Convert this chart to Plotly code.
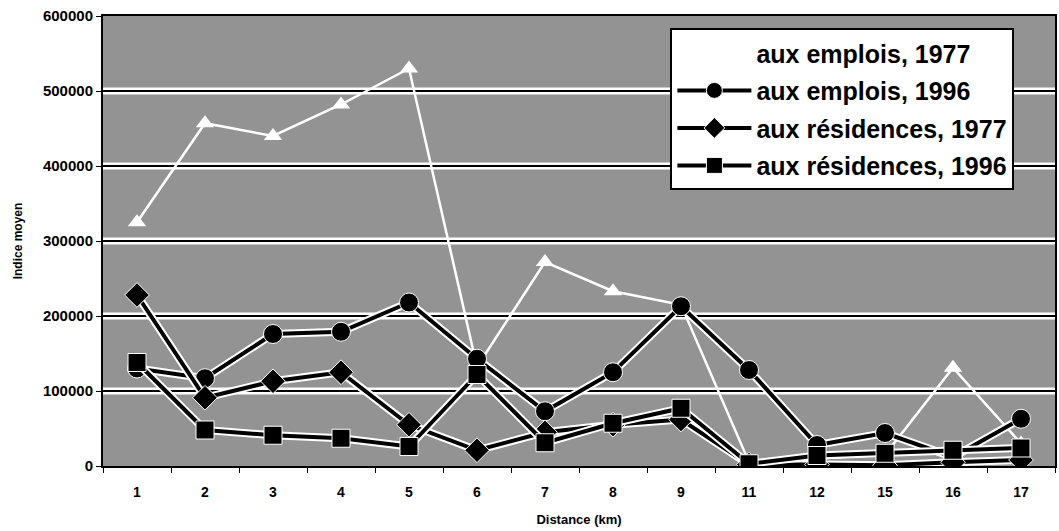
import plotly.graph_objects as go

categories = ["1", "2", "3", "4", "5", "6", "7", "8", "9", "11", "12", "15", "16", "17"]
emplois_1977 = [325000, 457000, 440000, 482000, 530000, 132000, 272000, 233000, 215000, 5000, 10000, 15000, 131000, 30000]
emplois_1996 = [130000, 117000, 176000, 179000, 218000, 143000, 73000, 125000, 213000, 128000, 28000, 44000, 12000, 63000]
residences_1977 = [228000, 91000, 113000, 125000, 55000, 21000, 45000, 55000, 62000, 2000, 2000, 1000, 5000, 8000]
residences_1996 = [138000, 48000, 41000, 37000, 26000, 122000, 31000, 57000, 77000, 3000, 14000, 17000, 21000, 24000]
y_ticks = [0, 100000, 200000, 300000, 400000, 500000, 600000]

FONT = "Liberation Sans"
fig = go.Figure()

# series 1: white triangles (aux emplois, 1977)
fig.add_trace(go.Scatter(
    x=categories, y=emplois_1977, mode="lines+markers", name="aux emplois, 1977",
    legendgroup="a",
    line=dict(color="white", width=2.5),
    marker=dict(symbol="triangle-up", size=16, color="white"),
))

black_series = [
    ("aux emplois, 1996", emplois_1996, "circle", 19, "b"),
    ("aux résidences, 1977", residences_1977, "diamond", 19, "c"),
    ("aux résidences, 1996", residences_1996, "square", 18, "d"),
]
for name, vals, sym, sz, grp in black_series:
    fig.add_trace(go.Scatter(
        x=categories, y=vals, mode="lines", showlegend=False, hoverinfo="skip",
        legendgroup=grp,
        line=dict(color="white", width=8),
    ))
    fig.add_trace(go.Scatter(
        x=categories, y=vals, mode="lines+markers", name=name,
        legendgroup=grp,
        line=dict(color="black", width=4),
        marker=dict(symbol=sym, size=sz, color="black",
                    line=dict(color="white", width=1)),
    ))

# gridlines: white halo with black core
for v in y_ticks[1:-1]:
    fig.add_shape(type="line", xref="paper", x0=0, x1=1, yref="y", y0=v, y1=v,
                  line=dict(color="white", width=7), layer="below")
for v in y_ticks[1:-1]:
    fig.add_shape(type="line", xref="paper", x0=0, x1=1, yref="y", y0=v, y1=v,
                  line=dict(color="black", width=2), layer="below")

fig.update_layout(
    width=1059, height=531,
    margin=dict(l=103, r=2, t=16, b=65),
    paper_bgcolor="white",
    plot_bgcolor="#939393",
    font=dict(family=FONT, color="black"),
    showlegend=True,
    legend=dict(
        x=0.596, y=0.973, xanchor="left", yanchor="top",
        bgcolor="white", bordercolor="black", borderwidth=2,
        font=dict(family=FONT, size=25, color="black", weight="bold"),
        itemwidth=74, tracegroupgap=2, traceorder="grouped",
    ),
    xaxis=dict(
        type="category", range=[-0.5, 13.5],
        tickson="boundaries", ticks="outside", ticklen=5, tickcolor="black",
        showline=True, linecolor="black", linewidth=2, mirror=True,
        showgrid=False, ticklabelstandoff=12,
        tickfont=dict(family=FONT, size=14, weight="bold"),
        title=dict(text="Distance (km)", font=dict(family=FONT, size=13, weight="bold"), standoff=16),
    ),
    yaxis=dict(
        range=[0, 600000], tickvals=y_ticks, tickformat="d",
        ticks="outside", ticklen=5, tickcolor="black",
        showline=True, linecolor="black", linewidth=2, mirror=True,
        showgrid=False, zeroline=False,
        tickfont=dict(family=FONT, size=15, weight="bold"),
        title=dict(text="Indice moyen", font=dict(family=FONT, size=12, weight="bold"), standoff=18),
    ),
)

fig.write_html("out.html")
